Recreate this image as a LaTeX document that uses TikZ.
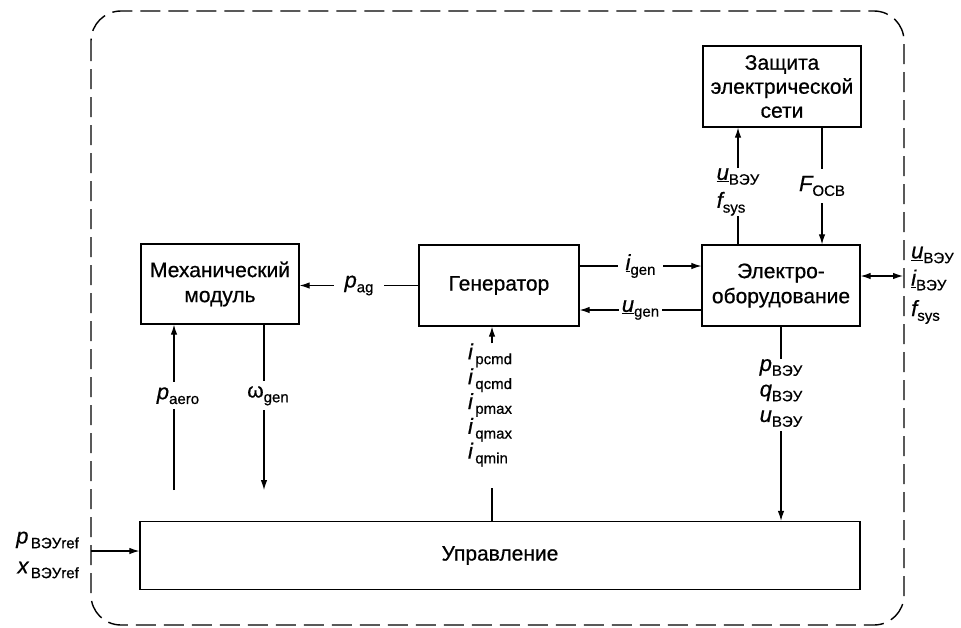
\documentclass[tikz,border=0pt]{standalone}
\usepackage{fontspec}
\setmainfont{Liberation Sans}[FakeBold=0.6]
\usetikzlibrary{arrows.meta}
\newcommand{\vv}[2]{{\fontsize{22}{22}\selectfont\itshape #1}\raisebox{-0.45ex}{\fontsize{15}{15}\selectfont #2}}
\newcommand{\uvv}[2]{\underline{\fontsize{22}{22}\selectfont\itshape #1}\raisebox{-0.45ex}{\fontsize{15}{15}\selectfont #2}}
\begin{document}
\begin{tikzpicture}[x=1pt,y=-1pt,
  box/.style={draw, line width=1.3pt, align=center, font=\fontsize{21}{25}\selectfont, inner sep=0pt},
  arr/.style={line width=1.1pt, -{Latex[length=10pt,width=6.5pt]}},
  biarr/.style={line width=1.1pt, {Latex[length=10pt,width=6.5pt]}-{Latex[length=10pt,width=6.5pt]}},
  ln/.style={line width=1.1pt},
  lbl/.style={font=\fontsize{20}{24}\selectfont, inner sep=0pt},
  onl/.style={lbl, fill=white},
  frame/.style={line width=1.4pt, dash pattern=on 20pt off 8pt, rounded corners=30pt}]
\useasboundingbox (0,0) rectangle (961,627);

\draw[frame] (91,11) rectangle (904,625);

\node[box, minimum width=158pt, minimum height=80pt] (mech) at (220,284) {Механический\\модуль};
\node[box, minimum width=160pt, minimum height=81pt] (gen) at (499,285.5) {Генератор};
\node[box, minimum width=158pt, minimum height=81pt] (elec) at (781,285.5) {Электро-\\оборудование};
\node[box, minimum width=158pt, minimum height=81pt, font=\fontsize{21}{24}\selectfont] (prot) at (782,86.5) {Защита\\электрической\\сети};
\node[box, minimum width=720pt, minimum height=68pt] (ctrl) at (500,555.5) {Управление};

% Generator -> Mechanical
\draw[arr] (gen.west) -- node[onl, inner xsep=11pt, inner ysep=6pt] (lpag) {\vv{p}{ag}} (gen.west -| mech.east);

% Generator <-> Electrical
\draw[arr] ([yshift=19.5pt]gen.east) -- node[onl, inner xsep=8pt, inner ysep=4pt] (ligen) {\uvv{i}{gen}} ([yshift=19.5pt]gen.east -| elec.west);
\draw[arr] ([yshift=-24.5pt]elec.west) -- node[onl, inner xsep=3pt, inner ysep=4pt] (lugen) {\uvv{u}{gen}} ([yshift=-24.5pt]elec.west -| gen.east);

% Mechanical module inputs/outputs
\coordinate (pa) at (174,490);
\coordinate (wg) at (264,490);
\draw[arr] (pa) -- node[onl, pos=0.57, inner ysep=5pt, xshift=4pt] (lpaero) {\vv{p}{aero}} (pa |- mech.south);
\draw[arr] (wg |- mech.south) -- node[onl, pos=0.43, inner ysep=5pt, xshift=4pt] (lwgen) {{\fontsize{21}{21}\selectfont ω}\raisebox{-0.45ex}{\fontsize{15}{15}\selectfont gen}} (wg);

% Control -> Generator
\node[lbl, align=left, font=\fontsize{20}{23.3}\selectfont] (glab) at (490,405)
  {\vv{i}{\,pcmd}\\\vv{i}{\,qcmd}\\\vv{i}{\,pmax}\\\vv{i}{\,qmax}\\\vv{i}{\,qmin}};
\draw[arr] ([xshift=2pt]glab.north) -- ([xshift=2pt]glab.north |- gen.south);
\draw[ln, shorten >=21pt] ([xshift=2pt]glab.south |- ctrl.north) -- ([xshift=2pt]glab.south);

% Electrical -> Control
\node[lbl, align=left, font=\fontsize{20}{25.5}\selectfont] (elab) at (781,393)
  {\vv{p}{ВЭУ}\\\vv{q}{ВЭУ}\\\vv{u}{ВЭУ}};
\draw[ln] (elec.south -| elab.north) -- (elab.north);
\draw[arr, shorten <=4pt] (elab.south) -- (elab.south |- ctrl.north);

% Electrical <-> Protection
\node[lbl, align=left, font=\fontsize{20}{28}\selectfont] (plab) at (738,192)
  {\uvv{u}{ВЭУ}\\\vv{f}{sys}};
\draw[arr] (plab.north) -- (plab.north |- prot.south);
\draw[ln] (elec.north -| plab.south) -- (plab.south);

\node[lbl, inner ysep=7pt] (flab) at (822,186) {\vv{F}{ОСВ}};
\draw[ln] (prot.south -| flab.north) -- (flab.north);
\draw[arr] (flab.south) -- (flab.south |- elec.north);

% External connection on the right
\coordinate (fr) at (903,276);
\draw[biarr] (elec.east |- fr) -- (fr);
\node[lbl, anchor=west] (ru) at (911,255) {\uvv{u}{ВЭУ}};
\node[lbl, anchor=west] (ri) at (911,280) {\uvv{i}{ВЭУ}};
\node[lbl, anchor=west] (rf) at (911,312) {\vv{f}{sys}};

% External input on the left
\coordinate (fl) at (91,551);
\draw[arr] (fl) -- (fl -| ctrl.west);
\node[lbl, anchor=east] (lp) at (79,540) {\vv{p}{\,ВЭУref}};
\node[lbl, anchor=east] (lx) at (79,570) {\vv{x}{\,ВЭУref}};
\end{tikzpicture}
\end{document}
